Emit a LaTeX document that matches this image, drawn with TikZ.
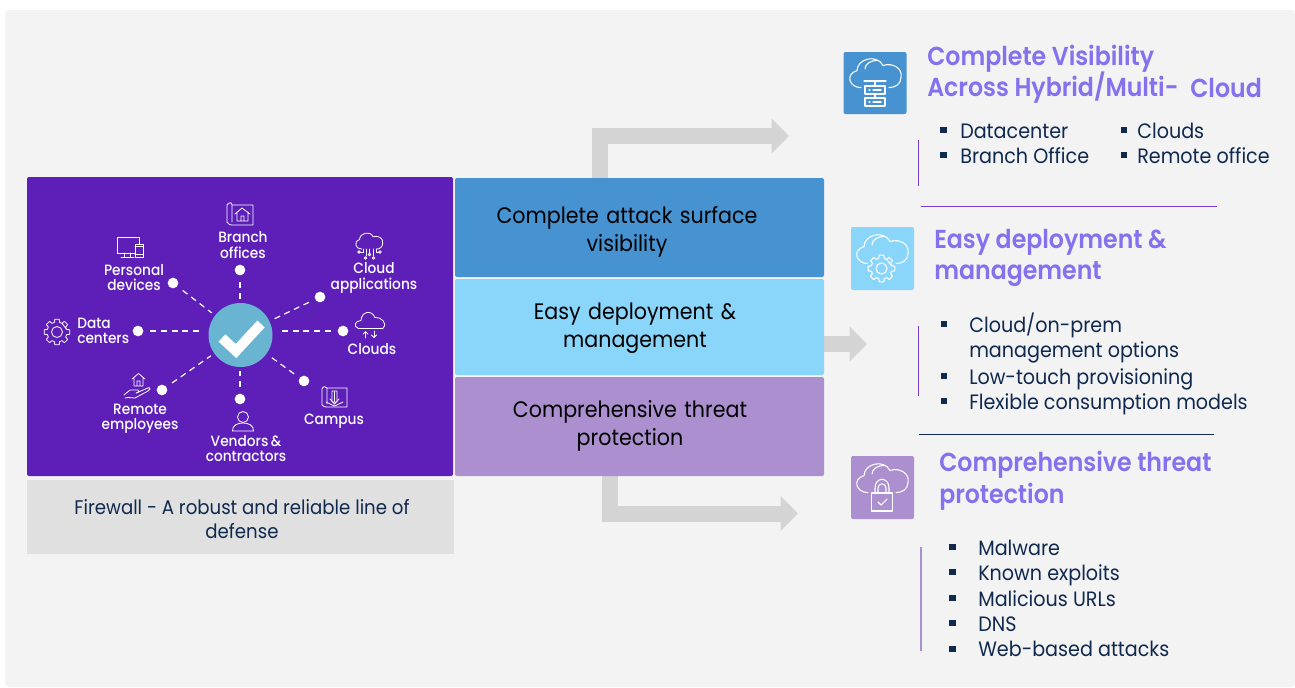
\documentclass[tikz,border=0pt]{standalone}
\usepackage{fontspec}
\setmainfont[FakeStretch=0.92]{Poppins}
\newfontfamily\titlefont[FakeStretch=0.91]{Poppins SemiBold}
\newfontfamily\lblfont[FakeStretch=0.92]{Poppins Medium}
\usetikzlibrary{arrows.meta}
\definecolor{pagebg}{HTML}{F3F3F3}
\definecolor{deep}{HTML}{5E1FB9}
\definecolor{greybox}{HTML}{E0E0E0}
\definecolor{bluebox}{HTML}{4793D1}
\definecolor{skybox}{HTML}{8AD5FA}
\definecolor{lilac}{HTML}{AB8FCF}
\definecolor{arrowgrey}{HTML}{D4D4D4}
\definecolor{hubblue}{HTML}{69B4D0}
\definecolor{titlec}{HTML}{8570EE}
\definecolor{navy}{HTML}{10294F}
\definecolor{rule}{HTML}{7A3FC8}
\newcommand{\cloudshape}{(-7,8) .. controls (-13,8) and (-15,0) .. (-9,-2) .. controls (-9,-9) and (1,-12) .. (4,-5) .. controls (9,-7) and (14,-3) .. (13,2) .. controls (13,6) and (10,8) .. (7,8)}
\newcommand{\gearshape}[2]{\foreach \a in {0,45,...,315}{ (\a-15:#1) -- (\a-10:#2) -- (\a+10:#2) -- (\a+15:#1) -- (\a+30:#1)}}
\tikzset{
  panel/.style={rounded corners=1.5pt,draw=none},
  lbl/.style={text=white,align=center,inner sep=0pt,font=\lblfont\fontsize{11.2}{11.4}\selectfont},
  dot/.style={circle,fill=white,minimum size=8pt,inner sep=0pt},
  spoke/.style={white,line width=0.9pt,dash pattern=on 4.5pt off 3.5pt,shorten <=5pt,shorten >=3pt},
  flow/.style={arrowgrey,line width=12pt,line join=miter,-{Triangle[length=13pt,width=25.5pt]}},
  boxtext/.style={text=black,align=center,inner sep=0pt,font=\fontsize{16.8}{21}\selectfont,text width=230pt},
  title/.style={anchor=base west,text=titlec,inner sep=0pt,font=\titlefont\fontsize{19.5}{20}\selectfont},
  item/.style={anchor=base west,text=navy,inner sep=0pt,font=\fontsize{15.6}{16}\selectfont},
  bul/.style={fill=navy,minimum size=5.2pt,inner sep=0pt},
  ic/.style={white,line width=0.6pt,line cap=round,line join=round},
  bigic/.style={white,line width=0.8pt,line cap=round,line join=round}
}
\begin{document}
\begin{tikzpicture}[x=0.75pt,y=-0.75pt]
\useasboundingbox (0,0) rectangle (1295,687);
\fill[white] (0,0) rectangle (1295,687);
\fill[pagebg,rounded corners=3pt] (5,10) rectangle (1295,687);

% arrows
\coordinate (a1s) at (599.5,178); \coordinate (a1e) at (789,136);
\coordinate (a2s) at (824,344); \coordinate (a2e) at (867,344);
\coordinate (a3s) at (610,476); \coordinate (a3e) at (798,513.5);
\draw[flow] (a1s) |- (a1e);
\draw[flow] (a2s) -- (a2e);
\draw[flow] (a3s) |- (a3e);

% panels
\fill[deep,panel] (27,177) rectangle (453,476);
\fill[greybox] (27,480) rectangle (454,554);
\node[text=navy,align=center,inner sep=0pt,font=\fontsize{14.8}{18}\selectfont] (fw) at (242,519) {Firewall - A robust and reliable line of\\defense};
\fill[bluebox,panel] (455,178) rectangle (824,277);
\fill[skybox,panel] (455,279) rectangle (824,375);
\fill[lilac,panel] (455,377) rectangle (824,476);
\node[boxtext] (b1) at (627,232) {Complete attack surface\\visibility};
\node[boxtext] (b2) at (635,328.5) {Easy deployment \&\\management};
\node[boxtext] (b3) at (630,426) {Comprehensive threat\\protection};

% hub and spokes
\node[circle,fill=hubblue,minimum size=48pt,inner sep=0pt] (hub) at (240.5,335) {};
\draw[white,line width=7.5pt] (222,338) -- (236,351) -- (261,324);
\node[dot] (dPersonal) at (173,283) {};
\node[dot] (dBranch) at (240,270) {};
\node[dot] (dCloudApp) at (320,297) {};
\node[dot] (dClouds) at (343,331) {};
\node[dot] (dCampus) at (304,381) {};
\node[dot] (dVendors) at (240,399) {};
\node[dot] (dRemote) at (162,390) {};
\node[dot] (dData) at (138,331) {};
\draw[spoke] (dPersonal) -- (hub);
\draw[spoke] (dBranch) -- (240,303);
\draw[spoke] (dCloudApp) -- (hub);
\draw[spoke] (dClouds) -- (275,331);
\draw[spoke] (dCampus) -- (hub);
\draw[spoke] (dVendors) -- (240,367);
\draw[spoke] (dRemote) -- (hub);
\draw[spoke] (dData) -- (207,331);

% hub labels
\node[lbl] (lPersonal) at (134,277.5) {Personal\\devices};
\node[lbl] (lBranch) at (243,245) {Branch\\offices};
\node[lbl] (lCloudApp) at (374,278) {Cloud\\applications};
\node[lbl,align=left,anchor=west] (lData) at (77,330.5) {Data\\centers};
\node[lbl] (lClouds) at (372,349) {Clouds};
\node[lbl] (lCampus) at (334,421) {Campus};
\node[lbl] (lVendors) at (246,448.5) {Vendors\,\&\\contractors};
\node[lbl] (lRemote) at (140,419) {Remote\\employees};

% monitor
\draw[ic] (117,237) rectangle (139,253) (124,253) -- (124,257) (130,253) -- (130,257) (121,257.5) -- (134,257.5);
\fill[deep] (134.5,243.5) rectangle (143.5,257.5);
\draw[ic] (135,244) rectangle (143,257) (135,246.5) -- (143,246.5) (135,254.5) -- (143,254.5);
% branch
\draw[ic] (227,205) .. controls (229,202) and (232,202) .. (232,205) -- (232,222) (227,205) -- (227,222) .. controls (228,225) and (231,225) .. (232,225) -- (253,225) -- (253,205) -- (232,205);
\draw[ic] (235,214) -- (242,208) -- (250,214) (237,213) -- (237,221) -- (248,221) -- (248,213) (241,221) -- (241,216) -- (244,216) -- (244,221);
% cloud apps
\begin{scope}[shift={(369,241.5)},xscale=1.05,yscale=0.95]
\draw[ic] \cloudshape;
\end{scope}
\draw[ic] (363,249) -- (363,252) -- (360,252) (366,249) -- (366,256) (369.5,249) -- (369.5,253) (373,249) -- (373,256) (376,249) -- (376,252) -- (379,252);
\foreach \p in {(359,252),(380,252),(365.5,258),(373.5,258),(369.5,254.5)} \draw[ic,fill=deep] \p circle (1.3);
% gear
\begin{scope}[shift={(57,332)}]
\draw[ic] \gearshape{10}{13} -- cycle;
\draw[ic] (0,0) circle (5.5);
\end{scope}
% clouds
\begin{scope}[shift={(370,321.5)}]
\draw[ic] (-12,6.5) -- (13,6.5);
\draw[ic] (-12,6.5) .. controls (-17,5.5) and (-15,-1) .. (-9,-1) .. controls (-9,-9) and (1,-13) .. (5,-4) .. controls (11,-5) and (18,2) .. (13,6.5);
\end{scope}
\draw[ic,-{Straight Barb[length=2pt,width=4pt]}] (365.5,338) -- (365.5,331);
\draw[ic,-{Straight Barb[length=2pt,width=4pt]}] (374,331) -- (374,338);
% campus
\draw[ic] (322,389) .. controls (323,386) and (326,386) .. (327,388) -- (327,404) (322,389) -- (322,405) .. controls (323,407) and (326,407) .. (327,407) -- (347,407) -- (347,388) -- (327,388);
\draw[ic] (332,391) rectangle (337,402) (330,399) -- (334.5,404) -- (339,399) (334.5,392) -- (334.5,401) (326,402) -- (334.5,406) -- (343,402);
% person
\draw[ic] (243,417) circle (5.5);
\draw[ic] (232.5,431) .. controls (232,425) and (238,423) .. (243,423) .. controls (248,423) and (254,425) .. (253.5,431) -- cycle;
% hand house
\draw[ic] (132,379) -- (138.5,373.5) -- (145,379) (134,378) -- (134,386) -- (143,386) -- (143,378) (137,386) -- (137,381) -- (140,381) -- (140,386);
\draw[ic] (124,395) -- (130,390) -- (138,390) .. controls (140,391) and (139,393) .. (136,393) (136,393) -- (149,387.5) .. controls (151,388) and (150,390) .. (148,391) -- (135,398) -- (128,397.5) -- (125,398);

% right column icons
\fill[bluebox,rounded corners=1.5pt] (843.5,52) rectangle (906.5,114);
\begin{scope}[shift={(875,74)},xscale=2,yscale=1.7]
\draw[bigic] \cloudshape;
\draw[bigic] (-5,-3) .. controls (-5,-6) and (-2,-8) .. (1,-8);
\end{scope}
\draw[bigic] (864,81) -- (886,81) (875,81) -- (875,85);
\fill[bluebox] (864.5,85) rectangle (885.5,106);
\draw[bigic] (865,86) rectangle (885,94) (865,98) rectangle (885,106) (875,94) -- (875,98);
\draw[bigic] (869,90) -- (870,90) (873,90) -- (881,90) (869,102) -- (870,102) (873,102) -- (881,102);

\fill[skybox,rounded corners=1.5pt] (851,227) rectangle (914,290);
\begin{scope}[shift={(882,250)},xscale=2,yscale=1.7]
\draw[bigic] \cloudshape;
\draw[bigic] (-5,-3) .. controls (-5,-6) and (-2,-8) .. (1,-8);
\end{scope}
\begin{scope}[shift={(881.5,268.5)}]
\fill[skybox] (0,0) circle (14);
\draw[bigic] \gearshape{10.5}{13.5} -- cycle;
\draw[bigic] (0,0) circle (5.5);
\end{scope}

\fill[lilac,rounded corners=1.5pt] (851,456) rectangle (914,519);
\begin{scope}[shift={(882,479)},xscale=2,yscale=1.7]
\draw[bigic] \cloudshape;
\draw[bigic] (-5,-3) .. controls (-5,-6) and (-2,-8) .. (1,-8);
\end{scope}
\fill[lilac] (870,482) rectangle (894,512);
\draw[bigic] (871.5,493) rectangle (892.5,511);
\draw[bigic] (875,493) -- (875,488) .. controls (875,476.5) and (889,476.5) .. (889,488) -- (889,493);
\draw[bigic] (878,493) -- (878,489) .. controls (878,482) and (886,482) .. (886,489) -- (886,493);
\draw[bigic] (878,502) -- (881,505) -- (887,499);

% right texts
\node[title] (t1a) at (927,65) {Complete Visibility};
\node[title] (t1b) at (927,96) {Across Hybrid/Multi-};
\node[title] (t1c) at (1190,97.5) {Cloud};
\node[title] (t2a) at (934,248) {Easy deployment \&};
\node[title] (t2b) at (934,279) {management};
\node[title] (t3a) at (939,471) {Comprehensive threat};
\node[title] (t3b) at (939,503) {protection};

\node[item] (i1) at (960,138) {Datacenter};
\node[item] (i2) at (960,163) {Branch Office};
\node[item] (i3) at (1137,138) {Clouds};
\node[item] (i4) at (1137,163) {Remote office};
\node[bul] at (943.5,130) {};
\node[bul] at (943.5,155) {};
\node[bul] at (1124,130) {};
\node[bul] at (1124,155) {};

\node[item] (i5) at (969,332) {Cloud/on-prem};
\node[item] (i6) at (969,357) {management options};
\node[item] (i7) at (969,384) {Low-touch provisioning};
\node[item] (i8) at (969,409) {Flexible consumption models};
\node[bul] at (944,324) {};
\node[bul] at (944,376) {};
\node[bul] at (944,401) {};

\node[item] (i9) at (978,555) {Malware};
\node[item] (i10) at (978,580) {Known exploits};
\node[item] (i11) at (978,606) {Malicious URLs};
\node[item] (i12) at (978,631) {DNS};
\node[item] (i13) at (978,656) {Web-based attacks};
\node[bul] at (952.5,547) {};
\node[bul] at (952.5,572) {};
\node[bul] at (952.5,598) {};
\node[bul] at (952.5,623) {};
\node[bul] at (952.5,649) {};

% rules
\draw[rule,line width=0.7pt] (918,140) -- (918,186);
\draw[rule,line width=0.7pt] (918,326) -- (918,396);
\draw[lilac,line width=1pt] (921,547) -- (921,651);
\draw[rule,line width=0.6pt] (921,206) -- (1217,206);
\draw[navy,line width=0.5pt] (919,434) -- (1214,434);
\end{tikzpicture}
\end{document}
